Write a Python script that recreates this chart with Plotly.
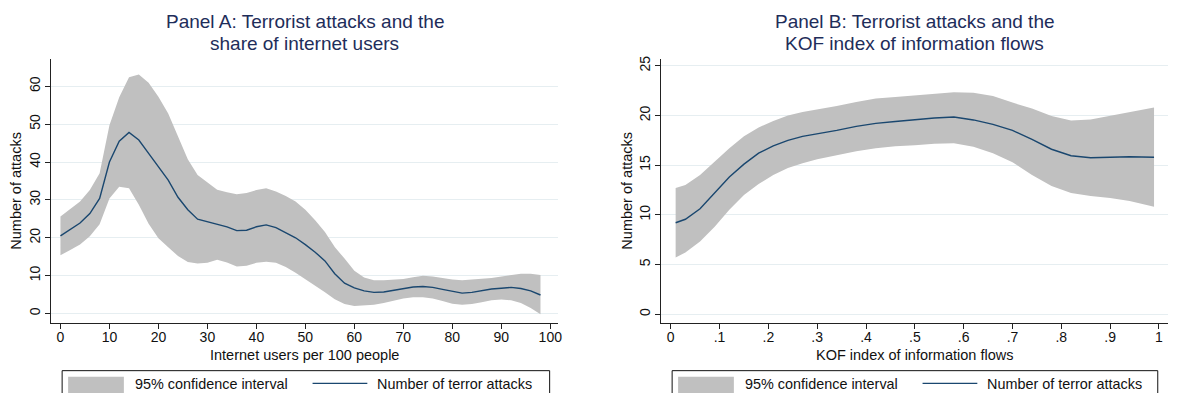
import plotly.graph_objects as go

# Panel A: internet users per 100 people
internet_users = [0, 2, 4, 6, 8, 10, 12, 14, 16, 18, 20, 22, 24, 26, 28, 30, 32, 34, 36, 38,
                  40, 42, 44, 46, 48, 50, 52, 54, 56, 58, 60, 62, 64, 66, 68, 70, 72, 74, 76, 78,
                  80, 82, 84, 86, 88, 90, 92, 94, 96, 98]
attacks_a = [20.5, 22.2, 23.9, 26.4, 30.4, 40.0, 45.5, 47.8, 45.8, 42.3, 38.9, 35.2, 30.7, 27.4,
             24.9, 24.2, 23.6, 22.9, 21.9, 22.0, 22.9, 23.4, 22.7, 21.4, 20.0, 18.2, 16.2, 13.9,
             10.5, 8.0, 6.8, 6.0, 5.6, 5.7, 6.1, 6.6, 7.0, 7.15, 6.9, 6.4, 5.8, 5.4, 5.6, 6.1,
             6.5, 6.7, 6.9, 6.6, 6.0, 4.9]
upper_a = [25.6, 27.6, 29.6, 32.6, 37.0, 49.7, 57.1, 62.4, 63.1, 60.9, 57.2, 52.8, 46.6, 40.7,
           36.6, 34.6, 32.7, 32.0, 31.5, 31.8, 32.6, 33.1, 32.2, 31.0, 29.6, 27.4, 24.6, 21.5,
           17.6, 14.5, 11.3, 9.5, 8.8, 8.8, 8.9, 9.1, 9.6, 10.0, 9.8, 9.4, 9.0, 8.8, 8.9, 9.2,
           9.4, 9.7, 10.2, 10.5, 10.5, 10.2]
lower_a = [15.4, 16.8, 18.2, 20.4, 23.6, 30.4, 33.5, 33.1, 28.7, 23.7, 19.9, 17.5, 15.2, 13.6,
           13.2, 13.4, 14.2, 13.5, 12.4, 12.6, 13.4, 13.7, 13.4, 12.3, 10.8, 9.2, 7.4, 5.6,
           3.8, 2.5, 2.0, 2.1, 2.3, 2.8, 3.5, 4.0, 4.3, 4.3, 4.0, 3.3, 2.6, 2.3, 2.5, 3.0,
           3.5, 3.7, 3.5, 2.8, 1.5, -0.2]

# Panel B: KOF index of information flows
kof_index = [0.01, 0.03, 0.06, 0.09, 0.12, 0.15, 0.18, 0.21, 0.24, 0.27, 0.30, 0.34, 0.38, 0.42,
             0.46, 0.50, 0.54, 0.58, 0.62, 0.66, 0.70, 0.74, 0.78, 0.82, 0.86, 0.90, 0.94, 0.99]
attacks_b = [9.2, 9.55, 10.6, 12.2, 13.8, 15.1, 16.2, 16.95, 17.5, 17.9, 18.15, 18.5, 18.9, 19.2,
             19.4, 19.6, 19.75, 19.85, 19.55, 19.1, 18.5, 17.6, 16.6, 15.95, 15.75, 15.8, 15.85, 15.8]
upper_b = [12.7, 13.0, 14.0, 15.4, 16.7, 17.9, 18.8, 19.45, 20.0, 20.35, 20.6, 20.95, 21.35, 21.7,
           21.85, 22.0, 22.2, 22.35, 22.3, 21.95, 21.3, 20.7, 19.95, 19.5, 19.6, 19.95, 20.35, 20.8]
lower_b = [5.7, 6.2, 7.3, 8.8, 10.5, 12.0, 13.1, 14.0, 14.7, 15.2, 15.6, 16.0, 16.4, 16.7,
           16.9, 17.0, 17.15, 17.2, 16.85, 16.2, 15.3, 14.0, 12.9, 12.2, 11.9, 11.7, 11.4, 10.8]

ticks_a_x = list(range(0, 101, 10))
ticks_a_y = list(range(0, 61, 10))
ticks_b_x = [0, 0.1, 0.2, 0.3, 0.4, 0.5, 0.6, 0.7, 0.8, 0.9, 1]
ticklabels_b_x = ["0", ".1", ".2", ".3", ".4", ".5", ".6", ".7", ".8", ".9", "1"]
ticks_b_y = [0, 5, 10, 15, 20, 25]

W, H = 1177, 393
FONT = "Liberation Sans, Arial, sans-serif"
BAND = "#c0c0c0"
NAVY = "#1a476f"
TITLE = "#1e2d5a"
GRID = "#e6eef1"


def px(x):
    return x / W


def py(y):
    return 1 - y / H


fig = go.Figure()

panels = [
    (internet_users, attacks_a, upper_a, lower_a, "x", "y"),
    (kof_index, attacks_b, upper_b, lower_b, "x2", "y2"),
]
for xs, mid, up, lo, xa, ya in panels:
    fig.add_trace(go.Scatter(
        x=xs + xs[::-1], y=up + lo[::-1], fill="toself", fillcolor=BAND,
        line=dict(width=0), mode="lines", hoverinfo="skip", showlegend=False,
        xaxis=xa, yaxis=ya))
    fig.add_trace(go.Scatter(
        x=xs, y=mid, mode="lines", line=dict(color=NAVY, width=1.4),
        showlegend=False, xaxis=xa, yaxis=ya))

plot_top, plot_bot = 56, 322.5
dom_y = [py(plot_bot), py(plot_top)]
a_left, a_right = 51.7, 560
b_left, b_right = 664.3, 1172.7

common_axis = dict(showline=True, linecolor="#222", linewidth=1, ticks="outside",
                   ticklen=5, tickcolor="#222", tickwidth=1,
                   tickfont=dict(family=FONT, size=14, color="#111"), zeroline=False)

fig.update_layout(
    width=W, height=H, margin=dict(l=0, r=0, t=0, b=0),
    paper_bgcolor="white", plot_bgcolor="white", showlegend=False,
    font=dict(family=FONT),
    xaxis=dict(domain=[px(a_left), px(a_right)], range=[-1.83, 101.5], tickvals=ticks_a_x,
               showgrid=False, anchor="y", ticklabelstandoff=-4, **common_axis),
    yaxis=dict(domain=dom_y, range=[-2.5, 67.3], tickvals=ticks_a_y, tickangle=-90,
               showgrid=True, gridcolor=GRID, gridwidth=1, anchor="x", **common_axis),
    xaxis2=dict(domain=[px(b_left), px(b_right)], range=[-0.019, 1.018], tickvals=ticks_b_x,
                ticktext=ticklabels_b_x, showgrid=False, anchor="y2", ticklabelstandoff=-4,
                **common_axis),
    yaxis2=dict(domain=dom_y, range=[-0.9, 25.73], tickvals=ticks_b_y, tickangle=-90,
                showgrid=True, gridcolor=GRID, gridwidth=1, anchor="x2", **common_axis),
)

ann = []
shapes = []


def text(x, y, s, size, color="#111", angle=0, xanchor="center"):
    ann.append(dict(x=px(x), y=py(y), xref="paper", yref="paper", text=s, showarrow=False,
                    font=dict(family=FONT, size=size, color=color), textangle=angle,
                    xanchor=xanchor, yanchor="middle"))


# Titles (two lines each)
for cx, l1, l2 in [((a_left + a_right) / 2, "Panel A: Terrorist attacks and the", "share of internet users"),
                   ((b_left + b_right) / 2, "Panel B: Terrorist attacks and the", "KOF index of information flows")]:
    text(cx, 19.0, l1, 19, TITLE)
    text(cx, 41.0, l2, 19, TITLE)

# Axis titles
mid_y = (plot_top + plot_bot) / 2
text((a_left + a_right) / 2, 354.5, "Internet users per 100 people", 14.5)
text((b_left + b_right) / 2, 354.5, "KOF index of information flows", 14.5)
text(16, mid_y, "Number of attacks", 14.5, angle=-90)
text(629.5, mid_y, "Number of attacks", 14.5, angle=-90)

# Legends
for left, right in [(a_left + 10.7, a_right - 8.0), (b_left + 10.7, b_right - 10.0)]:
    shapes.append(dict(type="rect", xref="paper", yref="paper", x0=px(left), x1=px(right),
                       y0=py(405), y1=py(370.5), line=dict(color="#111", width=1),
                       fillcolor="white"))
    shapes.append(dict(type="rect", xref="paper", yref="paper", x0=px(left + 6), x1=px(left + 62),
                       y0=py(400), y1=py(376.5), line=dict(width=0), fillcolor=BAND))
    text(left + 71.5, 383.5, "95% confidence interval", 14.4, xanchor="left")
    shapes.append(dict(type="line", xref="paper", yref="paper", x0=px(left + 251.5),
                       x1=px(left + 306.5), y0=py(383.3), y1=py(383.3),
                       line=dict(color=NAVY, width=1.4)))
    text(left + 314.5, 383.5, "Number of terror attacks", 14.4, xanchor="left")

fig.update_layout(annotations=ann, shapes=shapes)

fig.write_html("out.html")
